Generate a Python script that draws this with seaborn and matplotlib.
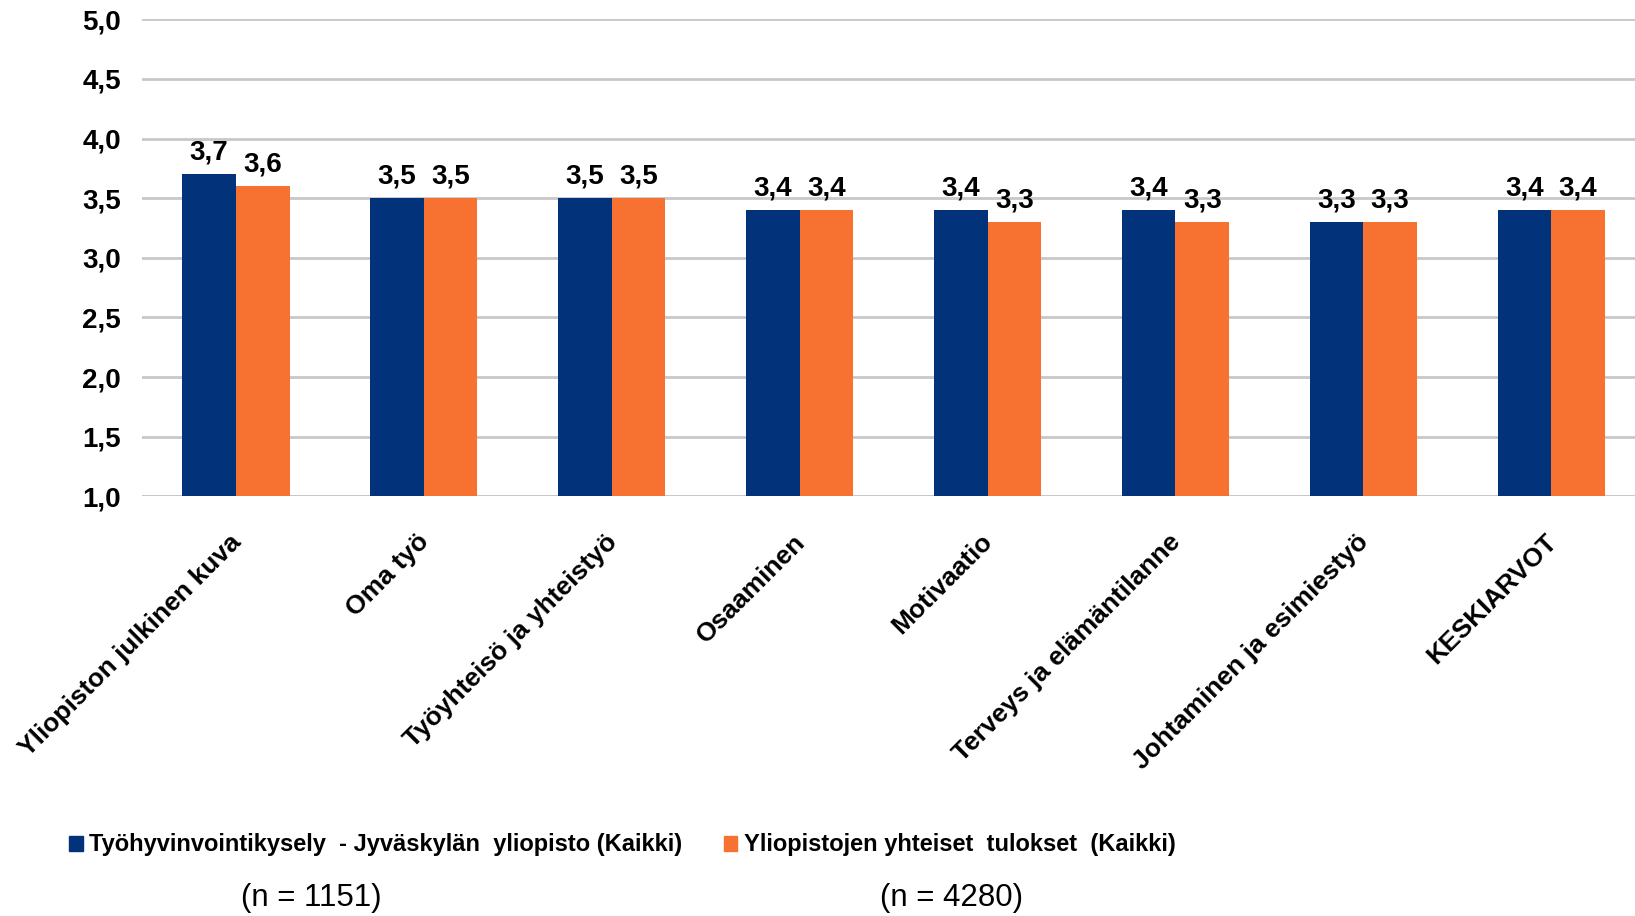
import pandas as pd
import matplotlib
matplotlib.use('Agg')
import matplotlib.pyplot as plt
import matplotlib.transforms as mtransforms
import seaborn as sns
import numpy as np

categories = ['Yliopiston julkinen kuva', 'Oma työ', 'Työyhteisö ja yhteistyö', 'Osaaminen',
              'Motivaatio', 'Terveys ja elämäntilanne', 'Johtaminen ja esimiestyö', 'KESKIARVOT']
jyu = [3.7, 3.5, 3.5, 3.4, 3.4, 3.4, 3.3, 3.4]
all_unis = [3.6, 3.5, 3.5, 3.4, 3.3, 3.3, 3.3, 3.4]
series = ['Työhyvinvointikysely  - Jyväskylän  yliopisto (Kaikki)',
          'Yliopistojen yhteiset  tulokset  (Kaikki)']
n_labels = ['(n = 1151)', '(n = 4280)']
yticks = [1.0, 1.5, 2.0, 2.5, 3.0, 3.5, 4.0, 4.5, 5.0]

df = pd.DataFrame({'Kategoria': categories * 2,
                   'Arvo': jyu + all_unis,
                   'Sarja': [series[0]] * len(categories) + [series[1]] * len(categories)})

sns.set_style('white')
plt.rcParams['font.family'] = ['Liberation Sans', 'DejaVu Sans']
plt.rcParams['text.color'] = 'black'
plt.rcParams['xtick.color'] = 'black'
plt.rcParams['ytick.color'] = 'black'

fig = plt.figure(figsize=(16.35, 9.16), dpi=100)
ax = fig.add_axes([142 / 1635, 1 - 496.3 / 916, 1 - 142 / 1635, (496.3 - 19.3) / 916])

palette = {series[0]: '#02337A', series[1]: '#F77130'}
sns.barplot(data=df, x='Kategoria', y='Arvo', hue='Sarja', palette=palette,
            width=0.57, gap=0, saturation=1, linewidth=0, ax=ax, legend=False)

for cont in ax.containers:
    ax.bar_label(cont, labels=[f'{v:.1f}'.replace('.', ',') for v in cont.datavalues],
                 padding=6, fontsize=20, fontweight='bold', color='black')

ax.set_ylim(1, 5)
ax.set_xlim(-0.5, (1635 - 142) / 187.9 - 0.5)
ax.set_yticks(yticks)
ax.set_yticklabels([f'{t:.1f}'.replace('.', ',') for t in yticks], fontsize=20, fontweight='bold')
ax.yaxis.grid(True, color='#C8C8C8', linewidth=2)
ax.set_axisbelow(True)
for s in ax.spines.values():
    s.set_visible(False)
ax.axhline(1, color='#C8C8C8', linewidth=2, zorder=0)
ax.tick_params(axis='y', length=0, pad=15)
ax.tick_params(axis='x', length=0, pad=24)
offset = mtransforms.ScaledTranslation(10 / 100, 0, fig.dpi_scale_trans)
for lab in ax.get_xticklabels():
    lab.set_rotation(45)
    lab.set_ha('right')
    lab.set_fontsize(19)
    lab.set_fontweight('bold')
    lab.set_transform(lab.get_transform() + offset)
ax.set_xlabel('')
ax.set_ylabel('')

handles = [plt.Rectangle((0, 0), 1, 1, color=palette[s]) for s in series]
fig.legend(handles, series, loc='center left', bbox_to_anchor=(69 / 1635, 1 - 845 / 916),
           ncol=2, frameon=False, borderpad=0, borderaxespad=0,
           handlelength=0.58, handleheight=0.62, handletextpad=0.28, columnspacing=1.75,
           prop={'size': 17, 'weight': 'bold'})

fig.text(311 / 1635, 1 - 898 / 916, n_labels[0], ha='center', va='center', fontsize=22.5)
fig.text(952 / 1635, 1 - 898 / 916, n_labels[1], ha='center', va='center', fontsize=22.5)

fig.savefig('out.png', dpi=100)
